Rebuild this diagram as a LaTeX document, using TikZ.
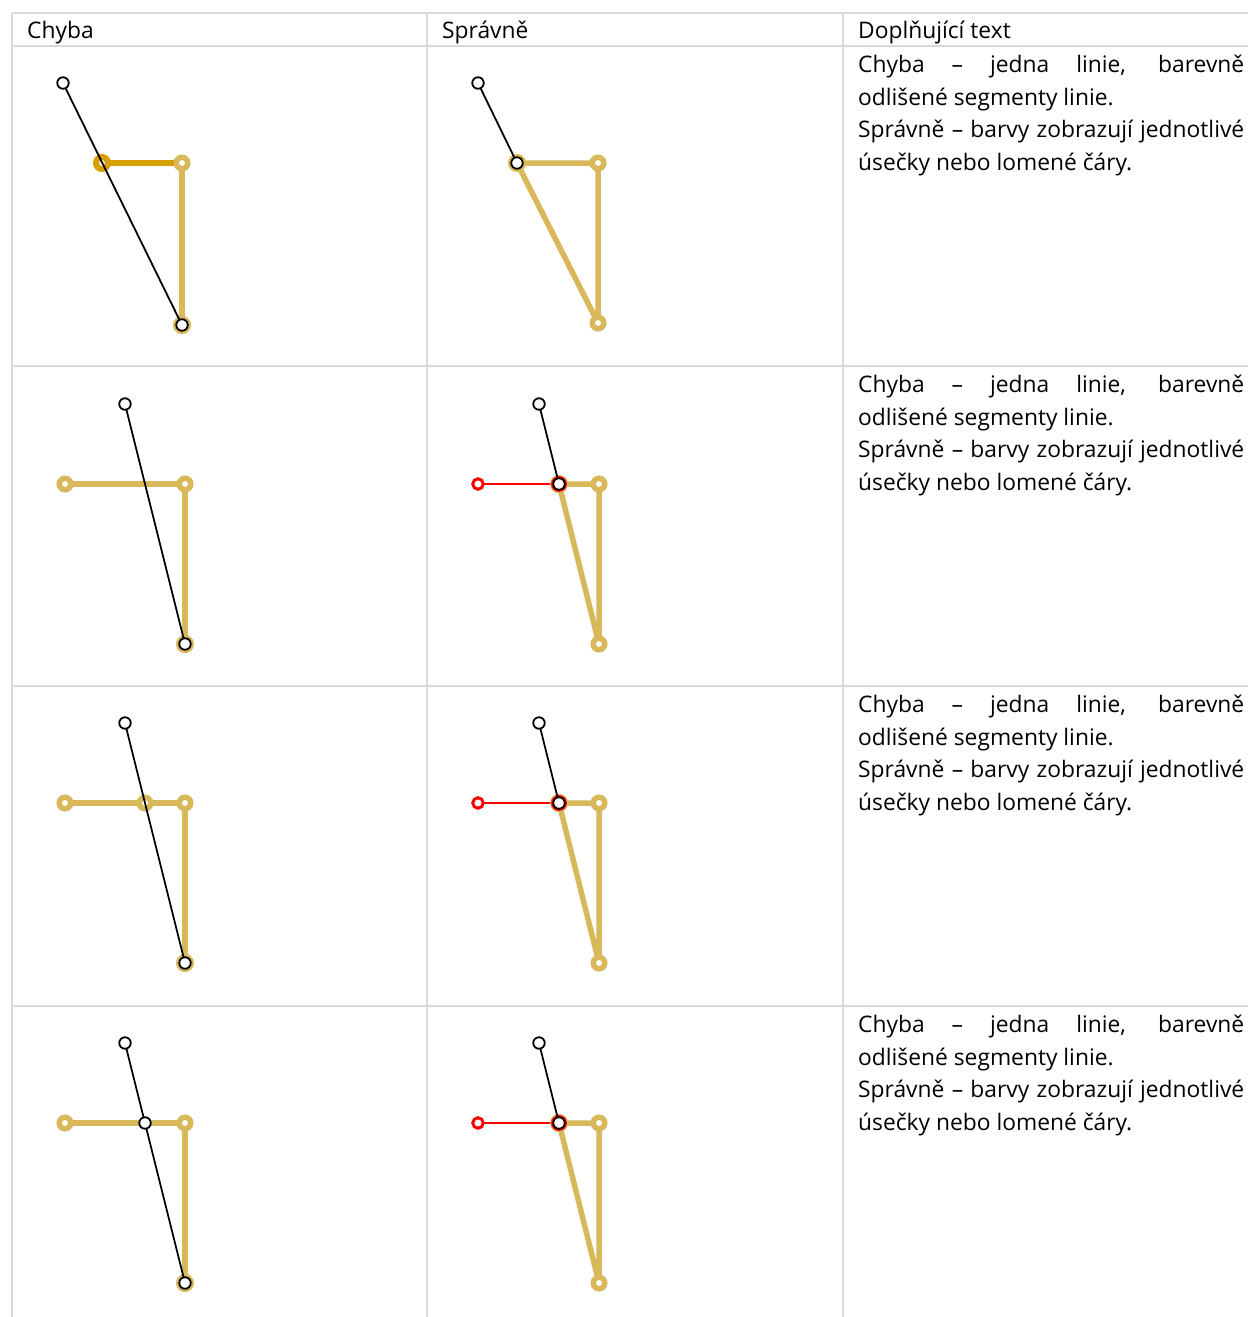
\documentclass[tikz,border=0pt]{standalone}
\usepackage{fontspec}
\setmainfont{Open Sans}
\definecolor{goldc}{RGB}{216,184,90}
\definecolor{darkgold}{RGB}{214,160,0}
\definecolor{gridc}{RGB}{217,217,217}
\definecolor{redc}{RGB}{255,0,0}
\begin{document}
\begin{tikzpicture}[x=1pt,y=-1pt,
  gridline/.style={draw=gridc,line width=1.6pt},
  gseg/.style={draw=goldc,line width=5.5pt,line join=round},
  dseg/.style={draw=darkgold,line width=5.5pt},
  bseg/.style={draw=black,line width=1.8pt},
  rseg/.style={draw=redc,line width=2.8pt},
  gdot/.style={circle,draw=goldc,fill=white,line width=5.5pt,inner sep=0pt,minimum size=11.5pt},
  ddot/.style={circle,draw=darkgold,fill=white,line width=6pt,inner sep=0pt,minimum size=12pt},
  haldot/.style={circle,draw=goldc,fill=white,line width=5pt,inner sep=0pt,minimum size=13pt},
  bdot/.style={circle,draw=black,fill=white,line width=1.8pt,inner sep=0pt,minimum size=11.5pt},
  rdot/.style={circle,draw=redc,fill=white,line width=3pt,inner sep=0pt,minimum size=10.5pt},
  rring/.style={circle,draw=redc,line width=2.8pt,inner sep=0pt,minimum size=13pt},
  head/.style={anchor=base west,inner sep=0pt,font=\fontsize{22.8}{27}\selectfont},
  body/.style={anchor=base west,inner sep=0pt,font=\fontsize{22.8}{27}\selectfont}
]
\useasboundingbox (0,0) rectangle (1248,1317);
\fill[white] (0,0) rectangle (1248,1317);
% grid
\foreach \yy in {13,46,366,686,1006} \draw[gridline] (12,\yy) -- (1248,\yy);
\foreach \xx in {12,427,843} \draw[gridline] (\xx,13) -- (\xx,1317);
% headers
\node[head] (h1) at (27,38) {Chyba};
\node[head] (h2) at (442,38) {Správně};
\node[head] (h3) at (858,38) {Doplňující text};
% body texts
\foreach \r/\yb in {1/72.5,2/392.5,3/712.5,4/1032.5}{
  \node[body] (t\r a) at (858,\yb) {\makebox[386pt][s]{Chyba – jedna linie, barevně}};
  \node[body] (t\r b) at (858,\yb+32.7) {odlišené segmenty linie.};
  \node[body] (t\r c) at (858,\yb+65.4) {\makebox[386pt][s]{Správně – barvy zobrazují jednotlivé}};
  \node[body] (t\r d) at (858,\yb+98.1) {úsečky nebo lomené čáry.};
}
% ---- Row 1 Chyba
\coordinate (c1a) at (63,83);
\coordinate (c1b) at (102,163);
\coordinate (c1c) at (182,163);
\coordinate (c1d) at (182,325);
\draw[gseg] (c1c) -- (c1d);
\draw[dseg] (c1b) -- (c1c);
\node[ddot] (n1b) at (c1b) {};
\node[gdot] (n1c) at (c1c) {};
\node[haldot] (n1d) at (c1d) {};
\draw[bseg] (c1a) -- (c1d);
\node[bdot] (n1a) at (c1a) {};
\node[bdot] (n1dd) at (c1d) {};
% ---- Row 1 Spravne
\coordinate (s1a) at (478,83);
\coordinate (s1b) at (517,163);
\coordinate (s1c) at (598,163);
\coordinate (s1d) at (598,323);
\draw[gseg] (s1b) -- (s1c) -- (s1d) -- cycle;
\node[gdot] (m1c) at (s1c) {};
\node[gdot] (m1d) at (s1d) {};
\node[haldot] (m1b) at (s1b) {};
\draw[bseg] (s1a) -- (s1b);
\node[bdot] (m1a) at (s1a) {};
\node[bdot] (m1bb) at (s1b) {};
% ---- Rows 2-4 Chyba
\foreach \r/\dy in {2/0,3/319,4/639}{
  \coordinate (c\r a) at (125,404+\dy);
  \coordinate (c\r l) at (65,484+\dy);
  \coordinate (c\r c) at (185,484+\dy);
  \coordinate (c\r d) at (185,644+\dy);
  \coordinate (c\r x) at (145,484+\dy);
  \draw[gseg] (c\r l) -- (c\r c) -- (c\r d);
  \node[gdot] (n\r l) at (c\r l) {};
  \node[gdot] (n\r c) at (c\r c) {};
  \node[haldot] (n\r d) at (c\r d) {};
}
\node[gdot] (n3x) at (c3x) {};
\foreach \r in {2,3,4}{
  \draw[bseg] (c\r a) -- (c\r d);
  \node[bdot] (n\r a) at (c\r a) {};
  \node[bdot] (n\r dd) at (c\r d) {};
}
\node[bdot] (n4x) at (c4x) {};
% ---- Rows 2-4 Spravne
\foreach \r/\dy in {2/0,3/319,4/639}{
  \coordinate (s\r a) at (539,404+\dy);
  \coordinate (s\r r) at (478,484+\dy);
  \coordinate (s\r j) at (559,484+\dy);
  \coordinate (s\r c) at (599,484+\dy);
  \coordinate (s\r d) at (599,644+\dy);
  \draw[rseg] (s\r r) -- (s\r j);
  \draw[gseg] (s\r j) -- (s\r c) -- (s\r d) -- cycle;
  \node[gdot] (m\r c) at (s\r c) {};
  \node[gdot] (m\r d) at (s\r d) {};
  \node[haldot] (m\r j) at (s\r j) {};
  \node[rring] (m\r jr) at (s\r j) {};
  \node[rdot] (m\r r) at (s\r r) {};
  \draw[bseg] (s\r a) -- (s\r j);
  \node[bdot] (m\r a) at (s\r a) {};
  \node[bdot] (m\r jj) at (s\r j) {};
}
\end{tikzpicture}
\end{document}
